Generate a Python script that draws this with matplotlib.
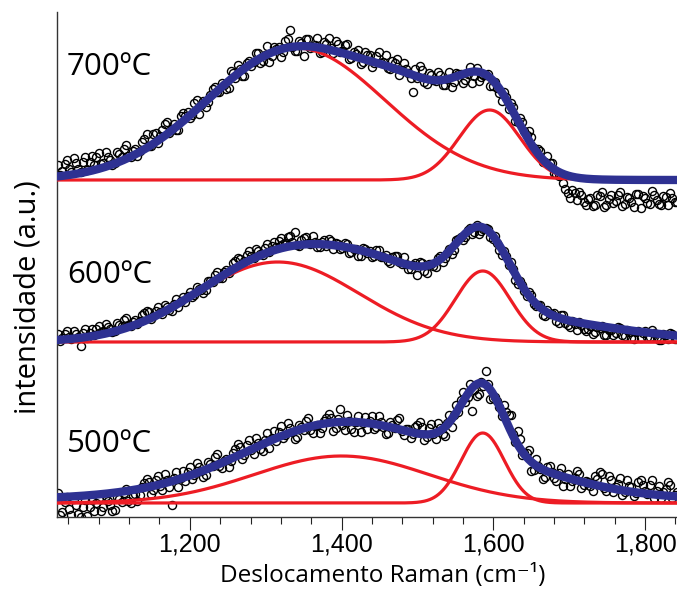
import numpy as np
import matplotlib
matplotlib.use('Agg')
import matplotlib.pyplot as plt

# Raman shift sampling (cm-1) of the measured spectra (two interleaved sets)
shift = np.arange(1026, 1843, 6)
shift_b = np.arange(1029, 1840, 6)

int_700 = [15, 9, 20, 8, 17, 8, 23, 18, 15, 27,
           17, 23, 15, 28, 23, 35, 23, 31, 29, 41,
           34, 46, 37, 50, 58, 51, 50, 64, 64, 62,
           77, 66, 79, 78, 91, 88, 97, 91, 109, 102,
           111, 104, 119, 118, 127, 119, 134, 124, 131, 123,
           139, 150, 129, 139, 124, 141, 133, 142, 128, 136,
           132, 139, 128, 135, 121, 128, 130, 118, 125, 113,
           124, 117, 125, 111, 117, 105, 117, 107, 88, 102,
           110, 96, 105, 99, 105, 95, 108, 98, 106, 97,
           106, 97, 112, 103, 105, 94, 98, 87, 88, 71,
           73, 58, 58, 45, 43, 29, 29, 18, 17, 7,
           4, -3, -13, -10, -20, -15, -25, -18, -25, -16,
           -27, -19, -23, -15, -26, -17, -22, -14, -28, -18,
           -24, -15, -24, -16, -25, -18, -22]
int_700b = [5, 16, 11, 22, 11, 18, 10, 24, 23, 16,
            28, 20, 17, 26, 31, 24, 29, 24, 38, 46,
            34, 47, 44, 56, 47, 56, 50, 67, 68, 65,
            80, 75, 73, 85, 93, 88, 95, 92, 107, 115,
            104, 117, 114, 127, 117, 125, 118, 133, 133, 128,
            141, 133, 129, 137, 141, 132, 135, 127, 138, 142,
            127, 136, 129, 136, 122, 126, 116, 128, 125, 117,
            128, 118, 112, 119, 121, 110, 111, 102, 111, 114,
            98, 107, 100, 108, 95, 101, 93, 107, 106, 100,
            113, 104, 99, 105, 106, 94, 92, 79, 83, 77,
            59, 62, 49, 49, 32, 31, 18, 24, 17, 6,
            5, -9, -18, -13, -12, -22, -19, -26, -15, -12,
            -25, -15, -21, -12, -24, -18, -27, -14, -16, -23,
            -11, -20, -25, -17, -13, -22]
int_600 = [8, 4, 11, 3, 8, -4, 13, 9, 7, 16,
           11, 15, 10, 19, 16, 24, 16, 22, 21, 29,
           30, 26, 35, 28, 35, 31, 43, 41, 40, 50,
           47, 53, 49, 61, 60, 70, 64, 72, 72, 81,
           83, 81, 91, 84, 91, 87, 98, 96, 95, 104,
           99, 106, 110, 96, 104, 99, 106, 95, 100, 96,
           101, 99, 93, 99, 89, 93, 86, 94, 89, 85,
           92, 85, 87, 79, 86, 80, 85, 73, 77, 67,
           79, 69, 78, 75, 86, 84, 93, 92, 103, 102,
           112, 108, 117, 111, 114, 105, 106, 92, 91, 77,
           73, 58, 57, 46, 47, 36, 37, 26, 28, 29,
           19, 27, 17, 21, 12, 17, 11, 16, 10, 14,
           7, 12, 7, 15, 7, 12, 4, 10, 4, 11,
           5, 9, 2, 8, 3, 8, 3]
int_600b = [1, 8, 5, 11, 5, 9, 4, 13, 13, 10,
            18, 13, 11, 17, 22, 17, 20, 18, 27, 31,
            23, 31, 30, 37, 32, 38, 35, 45, 46, 45,
            55, 52, 52, 61, 67, 64, 70, 69, 79, 84,
            78, 87, 86, 93, 88, 94, 90, 100, 101, 98,
            105, 100, 97, 102, 105, 98, 100, 95, 102, 103,
            93, 98, 94, 98, 90, 93, 86, 93, 91, 86,
            92, 85, 81, 85, 86, 78, 78, 73, 79, 80,
            71, 78, 76, 84, 80, 89, 88, 102, 105, 105,
            114, 110, 108, 113, 113, 103, 99, 87, 86, 80,
            62, 61, 51, 50, 38, 37, 27, 32, 28, 21,
            27, 19, 15, 18, 20, 13, 13, 8, 15, 16,
            7, 12, 9, 14, 6, 10, 3, 11, 9, 5,
            12, 5, 2, 7, 9, 3]
int_500 = [10, -9, 6, -12, -2, -14, 3, -4, -8, 5,
           -4, 2, -8, 6, 1, 14, 0, 9, 8, 20,
           21, 13, 27, 13, 23, -2, 31, 25, 22, 36,
           28, 36, 26, 41, 37, 49, 35, 44, 42, 54,
           56, 48, 63, 49, 60, 52, 70, 65, 62, 77,
           68, 75, 64, 78, 73, 85, 70, 78, 75, 85,
           85, 75, 94, 73, 82, 71, 87, 80, 74, 87,
           76, 81, 69, 81, 75, 85, 68, 74, 69, 78,
           76, 66, 79, 64, 75, 67, 88, 88, 91, 111,
           106, 92, 107, 121, 132, 104, 106, 96, 98, 88,
           69, 72, 48, 50, 32, 44, 34, 26, 37, 25,
           30, 17, 29, 22, 32, 15, 22, 17, 27, 31,
           15, 27, 11, 19, 8, 23, 16, 10, 23, 12,
           18, 5, 17, 11, 21, 5, 11]
int_500b = [-12, 1, -6, 4, -11, -4, -13, 3, 0, -8,
            7, -2, -7, 4, 10, 2, 7, 2, 16, 24,
            9, 23, 17, 29, 16, 25, 16, 32, 31, 24,
            40, 32, 28, 39, 46, 37, 42, 36, 50, 59,
            44, 58, 53, 65, 54, 63, 55, 72, 71, 65,
            80, 71, 66, 76, 82, 73, 77, 70, 82, 89,
            72, 84, 78, 88, 74, 81, 71, 86, 82, 74,
            87, 76, 70, 78, 83, 72, 74, 65, 76, 81,
            63, 75, 69, 80, 69, 80, 76, 98, 103, 101,
            119, 113, 109, 117, 119, 105, 102, 87, 91, 88,
            61, 64, 50, 53, 33, 37, 24, 36, 31, 22,
            35, 24, 17, 25, 29, 18, 21, 12, 24, 29,
            12, 23, 16, 25, 11, 17, 7, 21, 18, 9,
            23, 12, 5, 14, 18, 8]

# fitted bands (center, height, sigma); D and G are drawn, the rest only enter the total fit
bands_700 = [(1340, 132, 117), (1595, 70, 40)]
extra_700 = [(1510, 48, 65)]
bands_600 = [(1316, 80, 107), (1586, 71, 36)]
extra_600 = [(1470, 40, 95), (1620, 22, 140)]
bands_500 = [(1400, 47, 115), (1586, 70, 28.5)]
extra_500 = [(1380, 24, 140), (1610, 22, 100), (1450, 8, 400)]

temps = ['700ºC', '600ºC', '500ºC']
spectra = [(int_700, int_700b), (int_600, int_600b), (int_500, int_500b)]
bands = [bands_700, bands_600, bands_500]
extras = [extra_700, extra_600, extra_500]
offsets = [337, 175, 14]
label_y = [442, 234, 65]


def gauss(x, c, h, s):
    return h * np.exp(-(x - c) ** 2 / (2 * s ** 2))


fig = plt.figure(figsize=(6.77, 5.89), dpi=100)
ax = fig.add_axes([57 / 677, 72 / 589, 620 / 677, 505 / 589])

xf = np.linspace(1020, 1850, 900)
for name, (ya, yb), bb, ee, off, ly in zip(temps, spectra, bands, extras, offsets, label_y):
    for xs, ys in [(shift, ya), (shift_b, yb)]:
        ax.plot(xs, off + np.array(ys), 'o', mfc='none', mec='black', ms=5.8, mew=1.0, zorder=2)
    total = np.zeros_like(xf)
    for c, h, s in bb:
        g = gauss(xf, c, h, s)
        total += g
        ax.plot(xf, off + g, color='#ED1C24', lw=2.3, zorder=3)
    for c, h, s in ee:
        total += gauss(xf, c, h, s)
    ax.plot(xf, off + total, color='#2E3192', lw=6, zorder=4)
    ax.text(1038, ly, name, fontsize=22.5, family=['Open Sans', 'DejaVu Sans'],
            va='baseline', ha='left')

ax.set_xlim(1025, 1842)
ax.set_ylim(0, 505)
ax.set_yticks([])
ax.set_xticks([1200, 1400, 1600, 1800])
ax.set_xticklabels(['1,200', '1,400', '1,600', '1,800'], family='Liberation Sans', fontsize=18)
ax.set_xticks(np.arange(1040, 1841, 40), minor=True)
ax.tick_params(which='major', length=9, width=0.8, direction='out', pad=2, color='#222222')
ax.tick_params(which='minor', length=5, width=0.8, direction='out', color='#222222')
for side in ['top', 'right']:
    ax.spines[side].set_visible(False)
for side in ['left', 'bottom']:
    ax.spines[side].set_color('#333333')
    ax.spines[side].set_linewidth(1.0)

fig.text(383 / 677, 1 - 582 / 589, 'Deslocamento Raman (cm⁻¹)', fontsize=17.5,
         family=['Open Sans', 'DejaVu Sans'], ha='center', va='baseline')
fig.text(28 / 677, 1 - 297 / 589, 'intensidade (a.u.)', fontsize=21, rotation=90,
         family=['Open Sans', 'DejaVu Sans'], ha='center', va='center')

fig.savefig('out.png', dpi=100)
